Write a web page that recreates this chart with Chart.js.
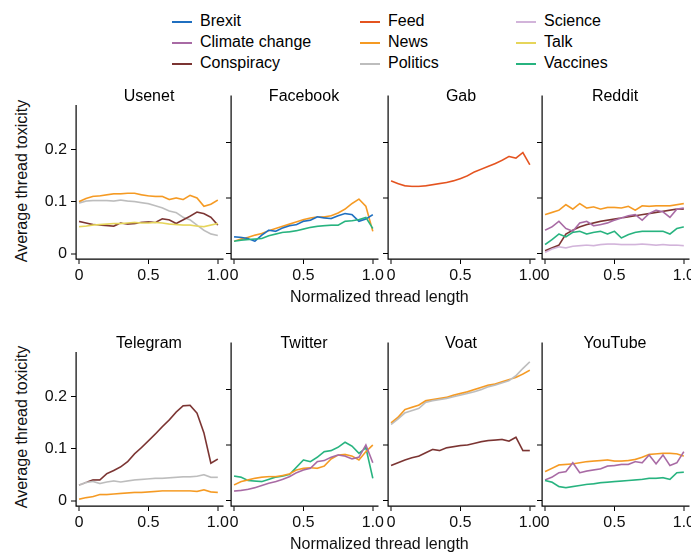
<!DOCTYPE html>
<html>
<head>
<meta charset="UTF-8">
<script src="https://cdn.jsdelivr.net/npm/chart.js"></script>
<style>
  body { margin: 0; background: #fff; font-family: "Liberation Sans", Arial, sans-serif; }
  #wrap { position: relative; width: 691px; height: 553px; overflow: hidden; }
  .cv { position: absolute; }
  .lbl { position: absolute; font-size: 16px; color: #111; white-space: nowrap; }
  .ptitle { position: absolute; font-size: 16px; text-align: center; width: 146px; }
  .leg { position: absolute; font-size: 16px; }
  .leg span { display: inline-block; width: 20px; height: 2px; vertical-align: middle; margin-right: 8px; }
</style>
</head>
<body>
<div id="wrap"></div>
<script>
  // normalized thread length positions
  const xs = [0, 0.05, 0.1, 0.15, 0.2, 0.25, 0.3, 0.35, 0.4, 0.45, 0.5, 0.55, 0.6, 0.65, 0.7, 0.75, 0.8, 0.85, 0.9, 0.95, 1.0];
  const xTicks = [0, 0.5, 1.0];
  const xTickLabels = ['0', '0.5', '1.0'];
  const yTicks = [0, 0.1, 0.2];
  const yTickLabels = ['0', '0.1', '0.2'];

  const colors = {
    'Brexit': '#1f6fc0', 'Climate change': '#a86aa4', 'Conspiracy': '#7b3432',
    'Feed': '#e4531f', 'News': '#f59a23', 'Politics': '#bdbdbd',
    'Science': '#d2b4da', 'Talk': '#e6d55a', 'Vaccines': '#27b37f'
  };

  // Usenet
  const usenetNews = [.100,.106,.110,.111,.113,.115,.115,.116,.116,.113,.111,.110,.110,.104,.107,.104,.112,.107,.091,.095,.103];
  const usenetPolitics = [.097,.101,.102,.102,.102,.101,.103,.101,.100,.098,.096,.092,.088,.082,.079,.070,.065,.055,.045,.038,.035];
  const usenetConspiracy = [.062,.059,.056,.055,.054,.053,.059,.057,.058,.060,.061,.060,.067,.065,.058,.065,.072,.080,.077,.070,.055];
  const usenetTalk = [.052,.053,.055,.056,.057,.058,.058,.059,.060,.059,.059,.060,.059,.057,.056,.055,.055,.053,.052,.055,.058];
  // Facebook
  const facebookBrexit = [.030,.029,.027,.022,.033,.042,.040,.046,.050,.052,.058,.060,.066,.064,.063,.068,.072,.070,.058,.062,.070];
  const facebookNews = [.022,.026,.029,.033,.036,.041,.045,.049,.053,.057,.061,.064,.066,.066,.068,.073,.080,.090,.098,.085,.040];
  const facebookVaccines = [.022,.024,.025,.026,.027,.032,.035,.038,.039,.041,.044,.047,.049,.050,.051,.051,.058,.059,.061,.065,.045];
  // Gab
  const gabFeed = [.131,.126,.122,.121,.121,.122,.124,.126,.128,.131,.135,.140,.147,.152,.157,.162,.168,.175,.172,.182,.160];
  // Reddit
  const redditNews = [.070,.074,.078,.088,.080,.090,.082,.084,.080,.083,.083,.082,.085,.078,.086,.085,.086,.086,.086,.088,.090];
  const redditClimate = [.042,.048,.058,.045,.040,.055,.058,.050,.052,.055,.060,.064,.068,.070,.060,.072,.078,.075,.065,.080,.082];
  const redditConspiracy = [.005,.010,.015,.035,.042,.048,.052,.055,.058,.060,.062,.064,.066,.068,.070,.072,.074,.076,.078,.080,.080];
  const redditVaccines = [.016,.025,.035,.030,.038,.040,.035,.038,.040,.035,.040,.028,.034,.038,.040,.040,.040,.040,.035,.045,.048];
  const redditScience = [.002,.008,.012,.010,.013,.014,.015,.014,.016,.017,.017,.016,.016,.016,.017,.016,.015,.016,.015,.015,.014];
  // Telegram
  const telegramConspiracy = [.030,.035,.040,.040,.052,.058,.065,.075,.090,.102,.115,.128,.142,.155,.170,.182,.183,.168,.130,.072,.080];
  const telegramPolitics = [.030,.035,.037,.033,.036,.038,.036,.038,.040,.041,.042,.043,.043,.044,.045,.046,.046,.047,.050,.045,.045];
  const telegramNews = [.003,.006,.008,.012,.012,.013,.014,.015,.016,.016,.017,.018,.019,.019,.019,.019,.019,.018,.021,.017,.016];
  // Twitter
  const twitterVaccines = [.044,.042,.036,.035,.034,.038,.042,.044,.047,.060,.073,.070,.078,.088,.090,.096,.105,.098,.085,.095,.040];
  const twitterNews = [.028,.034,.037,.040,.042,.043,.043,.045,.048,.055,.058,.059,.058,.062,.075,.082,.083,.080,.073,.088,.100];
  const twitterClimate = [.017,.018,.020,.023,.027,.031,.034,.038,.043,.050,.055,.058,.070,.072,.078,.082,.080,.075,.078,.100,.068];
  // Voat
  const voatNews = [.140,.150,.164,.168,.172,.180,.182,.184,.186,.190,.193,.196,.200,.204,.208,.210,.214,.218,.222,.228,.235];
  const voatPolitics = [.137,.147,.158,.162,.166,.177,.180,.182,.184,.187,.190,.193,.196,.200,.205,.208,.212,.216,.225,.238,.250];
  const voatConspiracy = [.063,.068,.073,.077,.080,.086,.092,.090,.095,.097,.099,.100,.103,.106,.108,.109,.110,.107,.114,.090,.090];
  // YouTube
  const youtubeNews = [.052,.058,.064,.065,.066,.068,.070,.071,.072,.073,.071,.071,.072,.074,.078,.083,.084,.085,.085,.084,.080];
  const youtubeClimate = [.037,.042,.050,.052,.068,.050,.053,.055,.057,.062,.063,.065,.065,.070,.068,.082,.066,.082,.063,.068,.088];
  const youtubeVaccines = [.036,.033,.025,.023,.025,.027,.029,.030,.032,.033,.034,.035,.036,.037,.038,.040,.040,.041,.038,.050,.051];

  const panels = [
    { name: 'Usenet', row: 0, col: 0, series: [['Talk', usenetTalk], ['Conspiracy', usenetConspiracy], ['Politics', usenetPolitics], ['News', usenetNews]] },
    { name: 'Facebook', row: 0, col: 1, series: [['Vaccines', facebookVaccines], ['Brexit', facebookBrexit], ['News', facebookNews]] },
    { name: 'Gab', row: 0, col: 2, series: [['Feed', gabFeed]] },
    { name: 'Reddit', row: 0, col: 3, series: [['Science', redditScience], ['Vaccines', redditVaccines], ['Climate change', redditClimate], ['Conspiracy', redditConspiracy], ['News', redditNews]] },
    { name: 'Telegram', row: 1, col: 0, series: [['News', telegramNews], ['Politics', telegramPolitics], ['Conspiracy', telegramConspiracy]] },
    { name: 'Twitter', row: 1, col: 1, series: [['Climate change', twitterClimate], ['News', twitterNews], ['Vaccines', twitterVaccines]] },
    { name: 'Voat', row: 1, col: 2, series: [['Conspiracy', voatConspiracy], ['Politics', voatPolitics], ['News', voatNews]] },
    { name: 'YouTube', row: 1, col: 3, series: [['Vaccines', youtubeVaccines], ['Climate change', youtubeClimate], ['News', youtubeNews]] }
  ];

  const wrap = document.getElementById('wrap');
  const axisX = [76, 231, 388, 542];
  const rowTop = [105, 352];
  const plotW = 153, plotH = 163;
  const font = { family: '"Liberation Sans", Arial, sans-serif', size: 16 };

  function addText(cls, text, left, top, extra) {
    const d = document.createElement('div');
    d.className = cls;
    d.textContent = text;
    d.style.left = left + 'px';
    d.style.top = top + 'px';
    if (extra) Object.assign(d.style, extra);
    wrap.appendChild(d);
    return d;
  }

  panels.forEach(p => {
    const yW = p.col === 0 ? 40 : 7;
    const xH = 30;
    const cv = document.createElement('canvas');
    cv.className = 'cv';
    const w = yW + plotW + 2, h = plotH + xH + 4;
    cv.style.left = (axisX[p.col] - yW) + 'px';
    cv.style.top = (rowTop[p.row] - 13) + 'px';
    cv.style.width = w + 'px';
    cv.style.height = h + 'px';
    wrap.appendChild(cv);
    addText('ptitle', p.name, axisX[p.col], rowTop[p.row] - 18);

    new Chart(cv, {
      type: 'line',
      data: {
        datasets: p.series.map(([label, vals]) => ({
          label,
          data: xs.map((x, i) => ({ x, y: vals[i] })),
          borderColor: colors[label],
          borderWidth: 1.6,
          pointRadius: 0,
          tension: 0,
          fill: false
        }))
      },
      options: {
        responsive: false,
        animation: false,
        devicePixelRatio: 2,
        layout: { padding: { top: 4, right: 2, left: 0, bottom: 0 } },
        plugins: { legend: { display: false }, tooltip: { enabled: false } },
        scales: {
          x: {
            type: 'linear', min: -0.022, max: 1.036,
            afterBuildTicks: a => { a.ticks = xTicks.map(v => ({ value: v })); },
            afterFit: a => { a.height = xH; },
            ticks: { color: '#111', font, padding: 2, maxRotation: 0,
              callback: v => xTickLabels[xTicks.indexOf(v)] },
            grid: { drawOnChartArea: false, drawTicks: true, tickLength: 5, color: '#000' },
            border: { color: '#000', width: 1.2 }
          },
          y: {
            min: -0.01, max: 0.284,
            afterBuildTicks: a => { a.ticks = yTicks.map(v => ({ value: v })); },
            afterFit: a => { a.width = yW; },
            ticks: { color: '#111', font, padding: 4, display: p.col === 0,
              callback: v => yTickLabels[yTicks.indexOf(v)] },
            grid: { drawOnChartArea: false, drawTicks: true, tickLength: 5, color: '#000' },
            border: { color: '#000', width: 1.2 }
          }
        }
      }
    });
  });

  // axis titles
  addText('lbl', 'Normalized thread length', 290, 288);
  addText('lbl', 'Normalized thread length', 290, 535);
  [182, 428].forEach(cy => {
    addText('lbl', 'Average thread toxicity', 22 - 90, cy - 10, { width: '180px', textAlign: 'center', transform: 'rotate(-90deg)' });
  });

  // legend
  const legendCols = [
    ['Brexit', 'Climate change', 'Conspiracy'],
    ['Feed', 'News', 'Politics'],
    ['Science', 'Talk', 'Vaccines']
  ];
  const legX = [172, 360, 516];
  legendCols.forEach((col, ci) => col.forEach((name, ri) => {
    const d = addText('leg', '', legX[ci], 12 + ri * 21);
    const s = document.createElement('span');
    s.style.background = colors[name];
    d.appendChild(s);
    d.appendChild(document.createTextNode(name));
  }));
</script>
</body>
</html>
